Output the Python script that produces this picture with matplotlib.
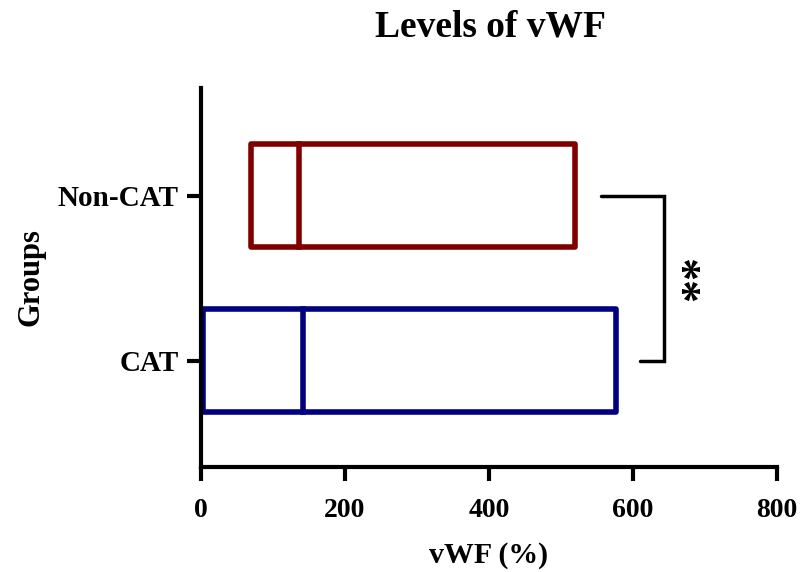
import matplotlib
matplotlib.use("Agg")
import matplotlib.pyplot as plt
from matplotlib.patches import Rectangle

groups = ["CAT", "Non-CAT"]
mins = [2.4, 69]
medians = [141, 136]
maxs = [576, 520]
colors = ["#000080", "#800000"]
xticks = [0, 200, 400, 600, 800]

plt.rcParams['font.family'] = ['Liberation Serif', 'DejaVu Serif']
plt.rcParams['font.weight'] = 'bold'

fig = plt.figure(figsize=(8, 5.72), dpi=100)
ax = fig.add_axes([0.25125, 0.1836, 0.72, 0.6626])

h = 0.625
for i, g in enumerate(groups):
    r = Rectangle((mins[i], i - h / 2), maxs[i] - mins[i], h, fill=False,
                  edgecolor=colors[i], linewidth=4, joinstyle='round')
    ax.add_patch(r)
    ax.plot([medians[i], medians[i]], [i - h / 2, i + h / 2], color=colors[i], linewidth=4)

# significance bracket
ax.plot([556, 643, 643, 610], [1, 1, 0, 0], color='black', linewidth=2.5,
        solid_joinstyle='miter', solid_capstyle='round')
ax.text(695, 0.5, "**", rotation=90, ha='center', va='center', fontsize=33,
        fontweight='bold')

ax.set_xlim(0, 800)
ax.set_ylim(-0.645, 1.653)
ax.set_xticks(xticks)
ax.set_xticklabels([str(t) for t in xticks], fontsize=20, fontweight='bold')
ax.set_yticks(range(len(groups)))
ax.set_yticklabels(groups, fontsize=21, fontweight='bold')
ax.spines['top'].set_visible(False)
ax.spines['right'].set_visible(False)
ax.spines['left'].set_linewidth(3)
ax.spines['bottom'].set_linewidth(3)
ax.tick_params(axis='both', width=3, length=10)
ax.tick_params(axis='x', pad=12)
ax.tick_params(axis='y', pad=6)
ax.set_xlabel("vWF (%)", fontsize=21.5, fontweight='bold', labelpad=14)
ax.set_ylabel("Groups", fontsize=22, fontweight='bold', labelpad=9)
fig.text(0.6125, 0.953, "Levels of vWF", ha='center', va='center', fontsize=27, fontweight='bold')

fig.savefig("out.png", dpi=100)
